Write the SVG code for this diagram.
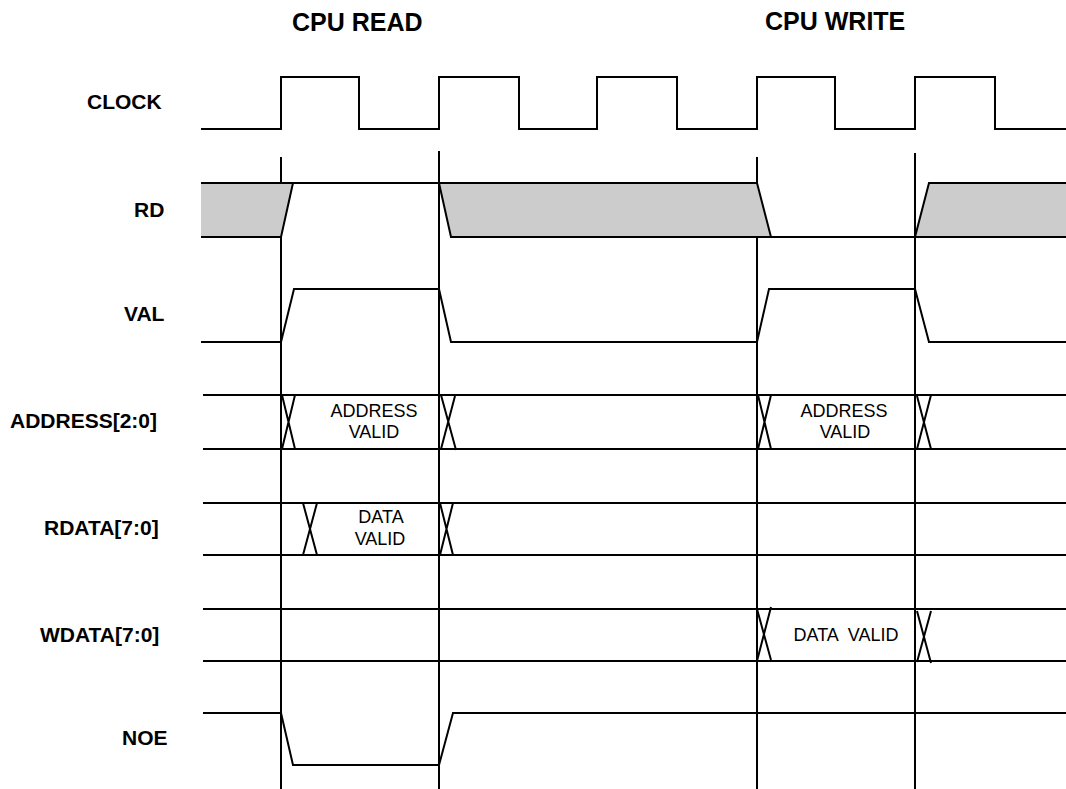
<svg xmlns="http://www.w3.org/2000/svg" width="1066" height="789" viewBox="0 0 1066 789">
<style>
.w{fill:none;stroke:#000;stroke-width:2;stroke-linejoin:miter}
.g{fill:#cccccc;stroke:none}
.t{font-family:"Liberation Sans",Arial,sans-serif;font-weight:bold;font-size:25px;fill:#000}
.l{font-family:"Liberation Sans",Arial,sans-serif;font-weight:bold;font-size:21px;fill:#000}
.s{font-family:"Liberation Sans",Arial,sans-serif;font-size:18px;fill:#000;text-anchor:middle}
</style>
<rect width="1066" height="789" fill="#fff"/>
<g id="titles">
<text class="t" x="292" y="31">CPU READ</text>
<text class="t" x="765" y="30">CPU WRITE</text>
</g>
<g id="connectors">
<path class="w" d="M281,157V789M439,151V789M757,157V789M915,153V789"/>
</g>
<g id="clock">
<text class="l" x="87" y="109">CLOCK</text>
<path class="w" d="M201,129H281V77H359V129H439V77H519V129H597V77H677V129H757V77H835V129H915V77H995V129H1066"/>
</g>
<g id="rd">
<text class="l" x="134" y="217">RD</text>
<polygon class="g" points="201,183 293,183 281,237 201,237"/>
<polygon class="g" points="439,183 757,183 771,237 451,237"/>
<polygon class="g" points="915,237 929,183 1066,183 1066,237"/>
<path class="w" d="M201,183H757L771,237H1066M201,237H281L293,183M439,183L451,237H771M915,237L929,183H1066"/>
</g>
<g id="val">
<text class="l" x="124" y="321">VAL</text>
<path class="w" d="M201,342H281L294,289H439L451,342H757L769,289H915L929,342H1066"/>
</g>
<g id="address">
<text class="l" x="10" y="428">ADDRESS[2:0]</text>
<path class="w" d="M203,395H1066M203,449H1066"/>
<path class="w" d="M282,395L295,449M295,395L282,449M441,395L456,450M455,396L441,449M758,395L771,449M771,395L758,449M917,396L931,449M931,395L917,449"/>
<text class="s" x="374" y="417">ADDRESS</text>
<text class="s" x="374" y="438">VALID</text>
<text class="s" x="844" y="417">ADDRESS</text>
<text class="s" x="845" y="438">VALID</text>
</g>
<g id="rdata">
<text class="l" x="44" y="535">RDATA[7:0]</text>
<path class="w" d="M203,503H1066M203,555H1066"/>
<path class="w" d="M303,503L317,555M317,503L303,555M440,503L453,555M453,503L440,555"/>
<text class="s" x="381" y="523">DATA</text>
<text class="s" x="380" y="545">VALID</text>
</g>
<g id="wdata">
<text class="l" x="40" y="642">WDATA[7:0]</text>
<path class="w" d="M203,609H1066M203,661H1066"/>
<path class="w" d="M771,607L757,661M757,609L771,660M931,611L917,662M917,611L931,663"/>
<text class="s" x="846" y="641" xml:space="preserve">DATA  VALID</text>
</g>
<g id="noe">
<text class="l" x="122" y="745">NOE</text>
<path class="w" d="M203,713H281L293,765H439L453,713H1066"/>
</g>
</svg>
